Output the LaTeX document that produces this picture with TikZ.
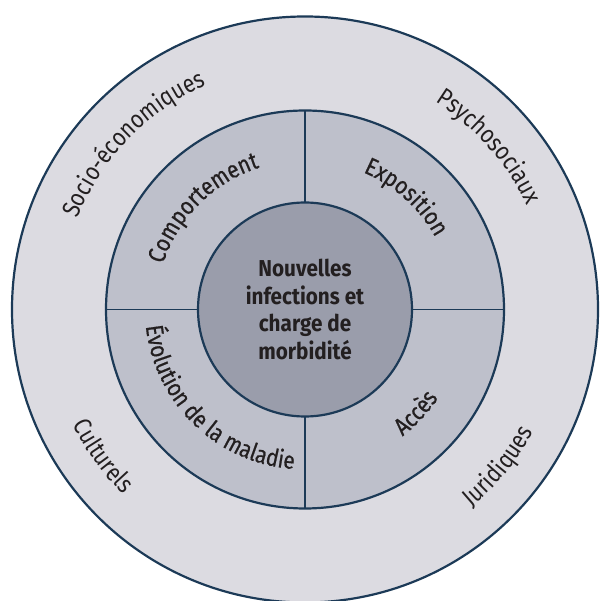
\documentclass[tikz,border=0pt]{standalone}
\usepackage{fontspec}
\setmainfont{Fira Sans}
\newfontfamily\condfnt[FakeStretch=0.85]{Fira Sans}
\newfontfamily\condmedfnt[FakeStretch=0.85,FakeBold=0.6]{Fira Sans}
\newfontfamily\corefnt[FakeStretch=0.9]{Fira Sans}
\usetikzlibrary{decorations.text}
\definecolor{ringout}{HTML}{DCDBE1}
\definecolor{ringmid}{HTML}{BEC0CB}
\definecolor{corefill}{HTML}{9A9DAB}
\definecolor{edgecol}{HTML}{1C3A57}
\definecolor{txtcol}{HTML}{231F20}
\newcommand\outerfnt{\condfnt\fontsize{25}{25}\selectfont\color{txtcol}}
\newcommand\midfnt{\condmedfnt\fontsize{24.5}{24.5}\selectfont\color{txtcol}}
% label along an arc, reading clockwise (tops outward)
\newcommand\toplbl[4]{\path[decorate, decoration={text along path, text align=center, text={|#3|#4}}] (#1+70:#2) arc[start angle=#1+70, end angle=#1-70, radius=#2];}
% label along an arc, reading counterclockwise (tops inward)
\newcommand\botlbl[4]{\path[decorate, decoration={text along path, text align=center, text={|#3|#4}}] (#1-70:#2) arc[start angle=#1-70, end angle=#1+70, radius=#2];}
\begin{document}
\begin{tikzpicture}[x=1pt,y=1pt,
  ring/.style={circle, draw=edgecol, line width=2.2pt, inner sep=0pt, outer sep=0pt},
  divider/.style={draw=edgecol, line width=1.3pt}]
\useasboundingbox (-305,-291.5) rectangle (295,309.5);
\node[ring, fill=ringout, minimum size=586pt] (outer) at (0,0) {};
\node[ring, fill=ringmid, minimum size=398pt] (middle) at (0,0) {};
\node[ring, fill=corefill, minimum size=214pt, align=center, text=txtcol,
      font=\corefnt\fontsize{23}{27.5}\selectfont\bfseries] (core) at (0,0)
      {Nouvelles\\infections et\\charge de\\morbidité};
\draw[divider] (core.north) -- (middle.north);
\draw[divider] (core.south) -- (middle.south);
\draw[divider] (core.east) -- (middle.east);
\draw[divider] (core.west) -- (middle.west);
\toplbl{136}{245}{\outerfnt}{Socio-économiques}
\toplbl{41.5}{245}{\outerfnt}{Psychosociaux}
\botlbl{216}{259}{\outerfnt}{Culturels}
\botlbl{-39}{259}{\outerfnt}{Juridiques}
\toplbl{135}{149}{\midfnt}{Comportement}
\toplbl{48}{149}{\midfnt}{Exposition}
\botlbl{226}{160}{\midfnt}{Évolution de la maladie}
\botlbl{-43}{160}{\midfnt}{Accès}
\end{tikzpicture}
\end{document}
